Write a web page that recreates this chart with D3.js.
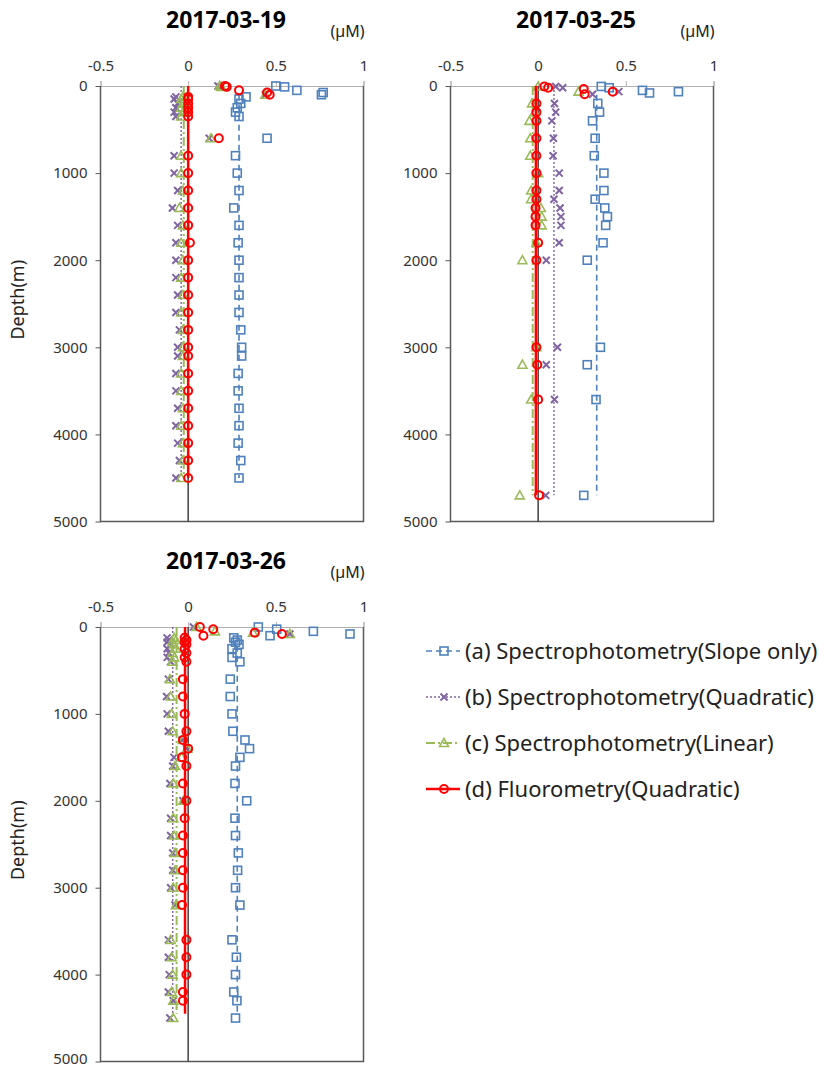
<!DOCTYPE html>
<html>
<head>
<meta charset="utf-8">
<script src="https://cdn.jsdelivr.net/npm/d3@7"></script>
<style>
  body { margin: 0; background: #fff; }
  svg { display: block; font-family: "Noto Sans", sans-serif; }
</style>
</head>
<body>
<div id="chart"></div>
<script>
// axis ticks shared by all three panels
var xTicks = [-0.5, 0, 0.5, 1];
var yTicks = [0, 1000, 2000, 3000, 4000, 5000];

var seriesNames = [
  "(a) Spectrophotometry(Slope only)",
  "(b) Spectrophotometry(Quadratic)",
  "(c) Spectrophotometry(Linear)",
  "(d) Fluorometry(Quadratic)"
];

// 2017-03-19
var depths19 = [0, 10, 25, 50, 75, 100, 125, 150, 200, 250, 300, 350, 600,
  800, 1000, 1200, 1400, 1600, 1800, 2000, 2200, 2400, 2600, 2800, 3000, 3100,
  3300, 3500, 3700, 3900, 4100, 4300, 4500];
var slope19 = [0.50, 0.55, null, 0.62, 0.77, 0.76, 0.33, 0.29, 0.30, 0.28, 0.27, 0.29, 0.45,
  0.27, 0.28, 0.29, 0.26, 0.29, 0.285, 0.29, 0.29, 0.29, 0.29, 0.30, 0.305, 0.305,
  0.285, 0.285, 0.29, 0.29, 0.285, 0.30, 0.29];
var quad19 = [0.17, 0.18, null, null, null, 0.44, -0.07, -0.08, -0.06, -0.07, -0.08, -0.07, 0.12,
  -0.08, -0.08, -0.06, -0.09, -0.06, -0.07, -0.07, -0.07, -0.06, -0.07, -0.05, -0.06, -0.06,
  -0.07, -0.07, -0.06, -0.07, -0.06, -0.05, -0.07];
var lin19 = [0.18, 0.19, null, null, null, 0.44, -0.03, -0.04, -0.03, -0.04, -0.03, -0.04, 0.13,
  -0.04, -0.04, -0.03, -0.05, -0.03, -0.04, -0.03, -0.04, -0.03, -0.04, -0.03, -0.03, -0.03,
  -0.04, -0.04, -0.03, -0.04, -0.03, -0.03, -0.04];
var fluo19 = [0.21, 0.22, null, 0.29, 0.45, 0.465, 0, 0, 0, 0, 0, 0, 0.175,
  0, 0, 0, 0, 0, 0.01, 0, 0, 0, 0, 0, 0, 0,
  0, 0, 0, 0, 0, 0, 0];
var meanLine19 = [0.29, -0.04, -0.025, 0.0];
var lineEnd19 = 4500;

// 2017-03-25
var depths25 = [5, 20, 35, 50, 65, 80, 95, 200, 300, 400, 600, 800, 1000, 1200,
  1300, 1400, 1500, 1600, 1800, 2000, 3000, 3200, 3600, 4700];
var slope25 = [0.36, 0.405, null, 0.595, 0.80, 0.635, null, 0.34, 0.35, 0.31, 0.325, 0.32, 0.375, 0.375,
  0.325, 0.38, 0.395, 0.385, 0.37, 0.28, 0.355, 0.28, 0.33, 0.26];
var quad25 = [0.10, 0.14, null, null, 0.46, null, 0.31, 0.093, 0.10, 0.078, 0.087, 0.085, 0.12, 0.12,
  0.09, 0.125, 0.13, 0.13, 0.12, 0.046, 0.11, 0.046, 0.093, 0.043];
var lin25 = [0.0, null, null, null, 0.23, null, null, -0.035, -0.02, -0.05, -0.045, -0.045, 0.0, -0.04,
  -0.04, 0.015, 0.02, 0.02, -0.01, -0.09, -0.01, -0.09, -0.04, -0.105];
var fluo25 = [0.035, 0.057, 0.26, null, 0.425, null, 0.265, -0.01, -0.01, -0.01, -0.01, -0.01, -0.01, -0.01,
  -0.01, -0.015, -0.015, -0.015, 0.0, -0.01, -0.01, -0.005, 0.0, 0.005];
var meanLine25 = [0.334, 0.09, -0.031, -0.013];
var lineEnd25 = 4700;

// 2017-03-26
var depths26 = [0, 25, 50, 65, 80, 100, 125, 150, 175, 200, 250, 300, 350, 400,
  600, 800, 1000, 1200, 1300, 1400, 1500, 1600, 1800, 2000, 2200, 2400, 2600,
  2800, 3000, 3200, 3600, 3800, 4000, 4200, 4300, 4500];
var slope26 = [0.40, 0.505, 0.714, null, 0.923, 0.467, 0.26, 0.28, 0.27, 0.29, 0.25, 0.28, 0.25, 0.295,
  0.24, 0.24, 0.25, 0.255, 0.324, 0.35, 0.295, 0.27, 0.267, 0.334, 0.267, 0.27, 0.286,
  0.282, 0.27, 0.295, 0.25, 0.275, 0.27, 0.26, 0.278, 0.27];
var quad26 = [0.03, null, null, null, 0.58, null, -0.12, -0.11, -0.12, -0.10, -0.12, -0.11, -0.12, -0.10,
  -0.113, -0.123, -0.12, -0.113, -0.035, -0.01, -0.081, -0.088, -0.104, -0.03, -0.10, -0.10, -0.088,
  -0.088, -0.10, -0.075, -0.113, -0.113, -0.108, -0.113, -0.085, -0.104];
var lin26 = [0.048, null, 0.153, 0.37, 0.58, null, -0.08, -0.07, -0.09, -0.08, -0.07, -0.09, -0.08, -0.09,
  -0.104, -0.10, -0.094, -0.088, -0.031, -0.005, -0.037, -0.075, -0.085, -0.028, -0.085, -0.081, -0.075,
  -0.075, -0.085, -0.07, -0.10, -0.094, -0.088, -0.094, -0.085, -0.085];
var fluo26 = [0.067, 0.143, null, 0.38, 0.535, 0.087, -0.02, -0.01, -0.02, -0.01, -0.02, -0.01, -0.02, -0.01,
  -0.03, -0.03, -0.02, -0.01, -0.03, 0.0, -0.035, -0.01, -0.03, -0.01, -0.02, -0.03, -0.03,
  -0.03, -0.03, -0.035, -0.01, -0.01, -0.01, -0.03, -0.03, null];
var meanLine26 = [0.28, -0.088, -0.066, -0.018];
var lineEnd26 = 4450;

// the blue mean line starts a bit below the surface
var lineStart = [100, 0, 0, 0];

var colors = ["#4F81BD", "#8064A2", "#9BBB59", "#FF0000"];
var dashes = ["6,4", "2,2", "9,3,2,3", null];
var lineWidths = [1.6, 1.4, 2, 2.5];

var panels = [
  {title: "2017-03-19", depths: depths19, series: [slope19, quad19, lin19, fluo19],
   lines: meanLine19, lineEnd: lineEnd19, x0: 100.5, x1: 363.5, y0: 86, y1: 521.5, ylabel: true},
  {title: "2017-03-25", depths: depths25, series: [slope25, quad25, lin25, fluo25],
   lines: meanLine25, lineEnd: lineEnd25, x0: 450.5, x1: 713.5, y0: 86, y1: 521.5, ylabel: false},
  {title: "2017-03-26", depths: depths26, series: [slope26, quad26, lin26, fluo26],
   lines: meanLine26, lineEnd: lineEnd26, x0: 100.5, x1: 363.5, y0: 627, y1: 1061.5, ylabel: true}
];

var svg = d3.select("#chart").append("svg")
  .attr("width", 834)
  .attr("height", 1068);

function drawMarker(g, i, color) {
  // one marker shape for each series
  if (i == 0) {
    g.append("rect").attr("x", -4).attr("y", -4).attr("width", 8).attr("height", 8)
      .attr("fill", "none").attr("stroke", color).attr("stroke-width", 1.6);
  } else if (i == 1) {
    g.append("path").attr("d", "M-3.5,-3.5L3.5,3.5M-3.5,3.5L3.5,-3.5")
      .attr("fill", "none").attr("stroke", color).attr("stroke-width", 2);
  } else if (i == 2) {
    g.append("path").attr("d", "M0,-4.5L4.5,3.5L-4.5,3.5Z")
      .attr("fill", "none").attr("stroke", color).attr("stroke-width", 1.6);
  } else {
    g.append("circle").attr("r", 4)
      .attr("fill", "none").attr("stroke", color).attr("stroke-width", 2);
  }
}

panels.forEach(function (p) {
  var x = d3.scaleLinear().domain([-0.5, 1]).range([p.x0, p.x1]);
  var y = d3.scaleLinear().domain([0, 5000]).range([p.y0, p.y1]);
  var g = svg.append("g");

  // title and unit
  g.append("text").attr("x", (p.x0 + p.x1) / 2 - 6).attr("y", p.y0 - 58)
    .attr("text-anchor", "middle").attr("font-size", 23).attr("font-weight", "bold")
    .attr("fill", "#000").text(p.title);
  g.append("text").attr("x", p.x1 - 16).attr("y", p.y0 - 49)
    .attr("text-anchor", "middle").attr("font-size", 16).attr("fill", "#222").text("(µM)");

  // top x axis
  var xa = g.append("g").attr("transform", "translate(0," + p.y0 + ")")
    .call(d3.axisTop(x).tickValues(xTicks).tickSize(5).tickPadding(10)
      .tickFormat(function (d) { return String(d); }));
  xa.select(".domain").attr("stroke", "#b0b0b0");
  xa.selectAll(".tick line").attr("stroke", "#b0b0b0");
  xa.selectAll(".tick text").attr("font-size", 15).attr("fill", "#333")
    .attr("font-family", "Noto Sans, sans-serif");

  // left y axis
  var ya = g.append("g").attr("transform", "translate(" + p.x0 + ",0)")
    .call(d3.axisLeft(y).tickValues(yTicks).tickSize(5).tickPadding(8)
      .tickFormat(function (d) { return String(d); }));
  ya.select(".domain").remove();
  ya.selectAll(".tick line").attr("stroke", "#595959");
  ya.selectAll(".tick text").attr("font-size", 15).attr("fill", "#333")
    .attr("font-family", "Noto Sans, sans-serif")
    // keep the bottom label inside the page
    .attr("dy", function (d) { return d == 5000 && p.y1 > 1000 ? "0.12em" : "0.32em"; });

  // frame: left, bottom, right
  g.append("path")
    .attr("d", "M" + p.x0 + "," + p.y0 + "V" + p.y1 + "H" + p.x1 + "V" + p.y0)
    .attr("fill", "none").attr("stroke", "#595959").attr("stroke-width", 1.5);

  // zero line
  g.append("line").attr("x1", x(0)).attr("x2", x(0)).attr("y1", p.y0).attr("y2", p.y1)
    .attr("stroke", "#404040").attr("stroke-width", 1.5);

  if (p.ylabel) {
    g.append("text")
      .attr("transform", "translate(24," + ((p.y0 + p.y1) / 2 - 4) + ") rotate(-90)")
      .attr("text-anchor", "middle").attr("font-size", 18).attr("fill", "#222")
      .text("Depth(m)");
  }

  // series: mean line first, then markers
  p.series.forEach(function (vals, i) {
    var lineData = [[p.lines[i], lineStart[i]], [p.lines[i], p.lineEnd]];
    g.append("path")
      .attr("d", d3.line().x(function (d) { return x(d[0]); }).y(function (d) { return y(d[1]); })(lineData))
      .attr("fill", "none").attr("stroke", colors[i])
      .attr("stroke-width", lineWidths[i])
      .attr("stroke-dasharray", dashes[i]);

    var pts = [];
    for (var k = 0; k < p.depths.length; k++) {
      if (vals[k] != null) pts.push({d: p.depths[k], v: vals[k]});
    }
    g.selectAll(null).data(pts).enter().append("g")
      .attr("transform", function (d) { return "translate(" + x(d.v) + "," + y(d.d) + ")"; })
      .each(function () { drawMarker(d3.select(this), i, colors[i]); });
  });
});

// legend
var legY = [651, 697, 743, 789];
seriesNames.forEach(function (name, i) {
  var lg = svg.append("g").attr("transform", "translate(0," + legY[i] + ")");
  lg.append("line").attr("x1", 426).attr("x2", 460).attr("y1", 0).attr("y2", 0)
    .attr("stroke", colors[i]).attr("stroke-width", lineWidths[i])
    .attr("stroke-dasharray", dashes[i]);
  var m = lg.append("g").attr("transform", "translate(444,0)");
  drawMarker(m, i, colors[i]);
  lg.append("text").attr("x", 465).attr("y", 0).attr("dy", "0.35em")
    .attr("font-size", 22).attr("fill", "#222").text(name);
});
</script>
</body>
</html>
